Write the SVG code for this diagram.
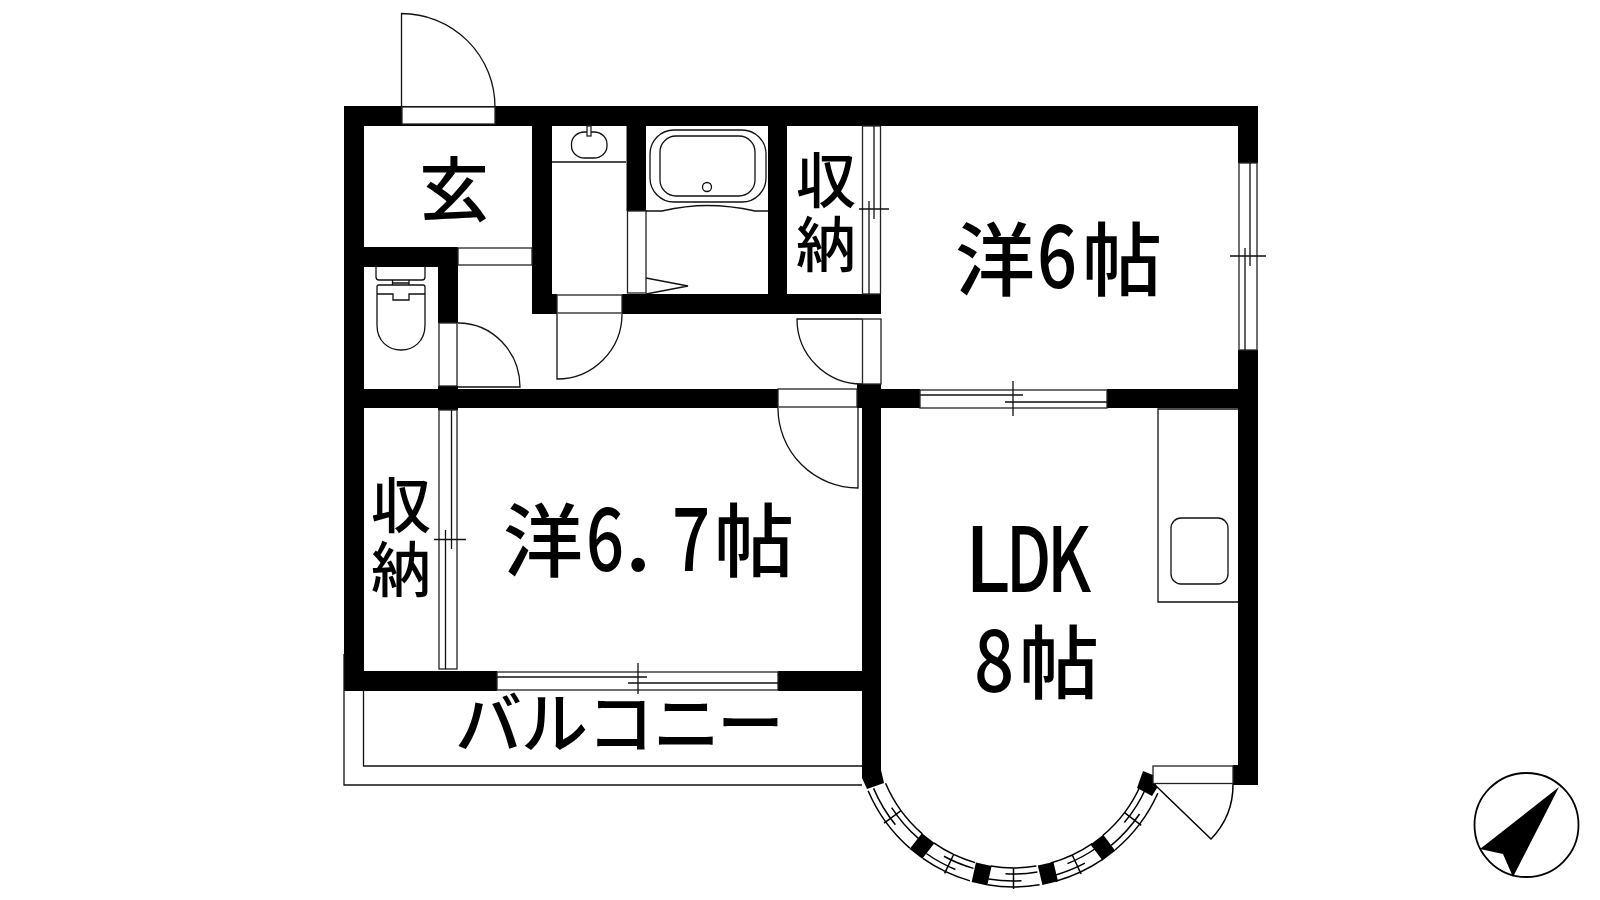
<svg xmlns="http://www.w3.org/2000/svg" width="1600" height="900" viewBox="0 0 1600 900">
<style>
.w{fill:#000}
.o{fill:#fff;stroke:#222;stroke-width:1.300}
.l{fill:none;stroke:#111;stroke-width:1.300}
.b{fill:none;stroke:#000;stroke-width:1.500}
.t{font-family:"Noto Sans CJK JP","Noto Sans CJK SC",sans-serif;font-weight:500;fill:#000}
</style>
<defs>
<g id="segS"><path class="b" d="M-22.9 137.1A139 139 0 0 0 22.9 137.1M-26.1 155.8A158 158 0 0 0 26.1 155.8M-8 144.8A145 145 0 0 0 23.9 143M-25.1 149.9A152 152 0 0 0 8 151.8M0 139V160"/></g>
<g id="segL"><path class="b" d="M-31.3 135.4A139 139 0 0 0 31.3 135.4M-35.5 153.9A158 158 0 0 0 35.5 153.9M-8 144.8A145 145 0 0 0 32.6 141.3M-34.2 148.1A152 152 0 0 0 8 151.8M0 139V160"/></g>
<rect id="mul" class="w" x="-8" y="138.500" width="16" height="20"/>
</defs>
<rect width="1600" height="900" fill="#fff"/>
<g id="walls">
<rect class="w" x="344" y="106" width="914" height="20"/>
<rect class="w" x="344" y="106" width="20" height="585"/>
<rect class="w" x="1238" y="106" width="20" height="57"/>
<rect class="w" x="1238" y="350" width="20" height="435"/>
<rect class="w" x="1233" y="765" width="25" height="20"/>
<rect class="w" x="532" y="126" width="20" height="188"/>
<rect class="w" x="532" y="294" width="25" height="20"/>
<rect class="w" x="622" y="294" width="259" height="20"/>
<rect class="w" x="626.500" y="126" width="19.500" height="85"/>
<rect class="w" x="768" y="126" width="19" height="168"/>
<rect class="w" x="364" y="247" width="94" height="20"/>
<rect class="w" x="438" y="247" width="20" height="76"/>
<rect class="w" x="364" y="389" width="414" height="19"/>
<rect class="w" x="438" y="386" width="20" height="24"/>
<rect class="w" x="857" y="384" width="24" height="24"/>
<rect class="w" x="881" y="389" width="39" height="19"/>
<rect class="w" x="1107" y="389" width="131" height="19"/>
<rect class="w" x="862" y="408" width="19" height="364"/>
<rect class="w" x="344" y="671" width="153" height="20"/>
<rect class="w" x="778" y="671" width="84" height="20"/>
<polygon class="w" points="862,770 881,770 884,783 867,789 862,778"/>
<polygon class="w" points="1143,771 1153,775 1157,788 1152,796 1137,788"/>
</g>
<g id="openings">
<rect class="o" x="402" y="107" width="93" height="17"/>
<path class="l" d="M401.500 107V13.500A93.500 93.500 0 0 1 495 107"/>
<rect class="o" x="458" y="248" width="74" height="17"/>
<rect class="o" x="557" y="295" width="65" height="18"/>
<path class="l" d="M557 314V379A65 65 0 0 0 622 314"/>
<rect class="o" x="627.500" y="211" width="18.500" height="82"/>
<path class="l" d="M646 278L688 286L646 294"/>
<rect class="o" x="439" y="323" width="18" height="63"/>
<path class="l" d="M458 323A62 64 0 0 1 520 387H458"/>
<rect class="o" x="862.500" y="319" width="18.500" height="65"/>
<path class="l" d="M862 319H797A65 65 0 0 0 862 384"/>
<rect class="o" x="778" y="389" width="79" height="18"/>
<path class="l" d="M778 408A80 80 0 0 0 858 488V408"/>
<rect class="o" x="1153" y="766" width="80" height="17.500"/>
<path class="b" d="M1155 785L1211 839A78 78 0 0 0 1233 784"/>
</g>
<g id="windows">
<rect class="o" x="862.500" y="126" width="18" height="168"/>
<path class="l" d="M874 126V219M869 201V294M859 209H889"/>
<rect class="o" x="1239" y="163" width="18" height="187"/>
<path class="l" d="M1250 163V266M1245 248V350M1230 256H1266"/>
<rect class="o" x="920" y="390" width="187" height="18"/>
<path class="l" d="M920 395H1023M1005 402H1107M1013 381V416"/>
<rect class="o" x="439" y="410" width="18" height="259"/>
<path class="l" d="M451.500 410V549M445.500 530V669M434 539.500H466"/>
<rect class="o" x="497" y="672" width="281" height="18"/>
<path class="l" d="M497 677H647M628 683H778M638 663V694"/>
<g transform="translate(1013.500 729)">
<use href="#segL" transform="rotate(54)"/>
<use href="#segS" transform="rotate(25.500)"/>
<use href="#segS"/>
<use href="#segS" transform="rotate(-25)"/>
<use href="#segL" transform="rotate(-53)"/>
<use href="#mul" transform="rotate(38)"/>
<use href="#mul" transform="rotate(12.400)"/>
<use href="#mul" transform="rotate(-13.400)"/>
<use href="#mul" transform="rotate(-37)"/>
</g>
</g>
<g id="balcony">
<path class="l" d="M344 654V785H862M363.500 691V766H862"/>
</g>
<g id="fixtures">
<path class="l" d="M552 162H626"/>
<rect class="l" x="571.500" y="132" width="35.500" height="26" rx="13" ry="12"/>
<rect class="o" x="587" y="126" width="4" height="10"/>
<rect class="l" x="650" y="130" width="116" height="72" rx="24"/>
<rect class="l" x="660" y="136" width="95" height="60" rx="16"/>
<circle class="l" cx="707" cy="187" r="4.500"/>
<path class="l" d="M646 211H662C680 207 695 205.500 707 205.500C720 205.500 737 207 755 211H768"/>
<path class="l" d="M376 267V277Q376 280 379 280H422Q425 280 425 277V267"/>
<path class="l" d="M392.500 280V285M409 280V285M392.500 283H409"/>
<path class="l" d="M377 287Q377 285 379 285H423Q425 285 425 287V325C425 342 413 350 401 350C389 350 377 342 377 325V287M377 294H393V300H409V294H425"/>
<path class="l" d="M1238 409H1158V602H1238"/>
<rect class="l" x="1171" y="518" width="57" height="66" rx="10"/>
</g>
<g id="compass">
<circle cx="1526.500" cy="825" r="52" fill="#fff" stroke="#000" stroke-width="1.800"/>
<polygon class="w" points="1559,787 1480,849 1503,854 1513,877"/>
</g>
<g id="labels">
<text class="t" x="419" y="216" font-size="70">玄</text>
<text class="t" x="796" y="203" font-size="60">収</text>
<text class="t" x="796" y="267" font-size="60">納</text>
<text class="t" x="371" y="528" font-size="60">収</text>
<text class="t" x="371" y="592" font-size="60">納</text>
<text class="t" x="955" y="289" font-size="80">洋</text>
<text class="t" font-size="88" transform="translate(1037 288) scale(.8 1)">6</text>
<text class="t" x="1082" y="289" font-size="80">帖</text>
<text class="t" x="503" y="570" font-size="80">洋</text>
<text class="t" font-size="88" transform="translate(586 571) scale(.76 1)">6</text>
<text class="t" font-size="88" transform="translate(625 571)">.</text>
<text class="t" font-size="88" transform="translate(672 571) scale(.76 1)">7</text>
<text class="t" x="714" y="570" font-size="80">帖</text>
<text class="t" font-size="90" transform="translate(965 592) scale(.9 1)">L</text>
<text class="t" font-size="90" transform="translate(1006 592) scale(.72 1)">D</text>
<text class="t" font-size="90" transform="translate(1047 592) scale(.74 1)">K</text>
<text class="t" font-size="86" transform="translate(974 692) scale(.82 1)">8</text>
<text class="t" x="1019" y="692" font-size="80">帖</text>
<text class="t" x="455" y="748" font-size="67">バ<tspan x="521">ル</tspan><tspan x="587">コ</tspan><tspan x="653">ニ</tspan><tspan x="717">ー</tspan></text>
</g>
</svg>
